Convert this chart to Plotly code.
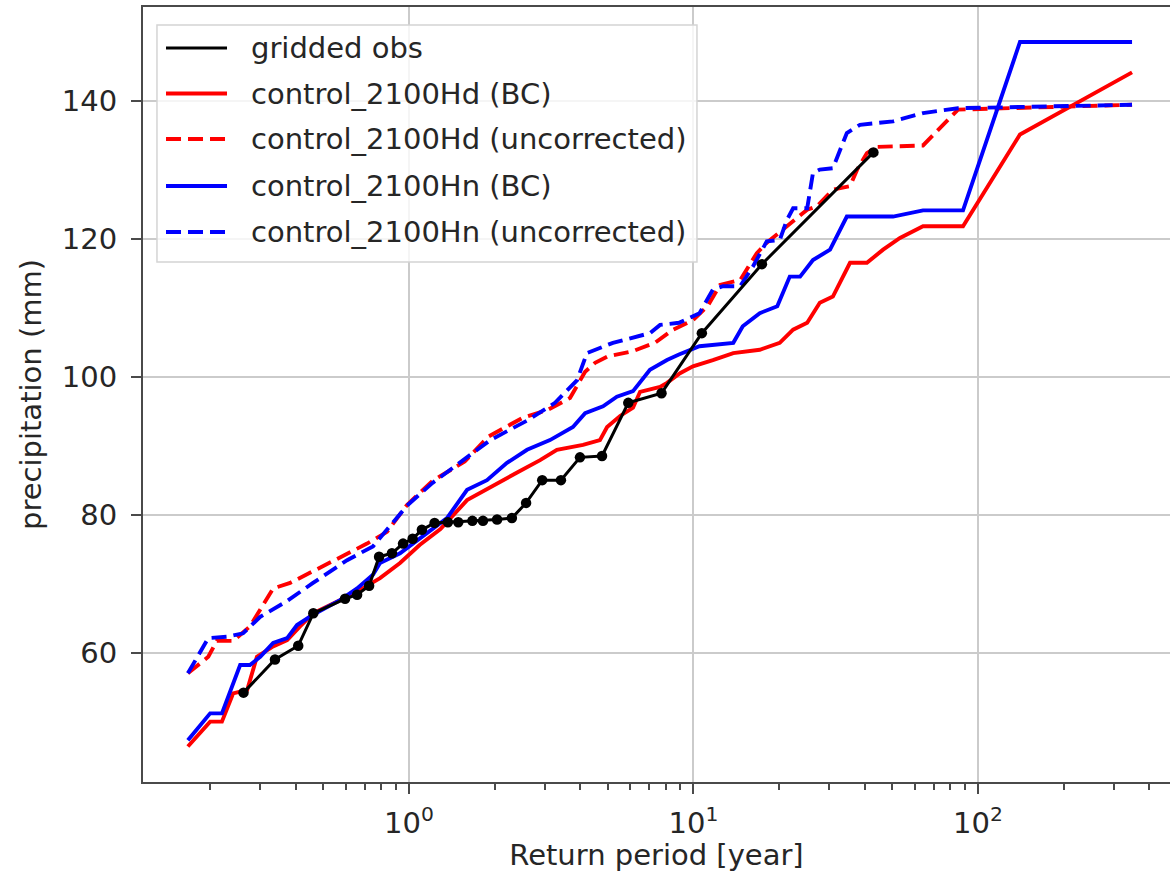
import plotly.graph_objects as go

# Empirical return levels: return period (years) vs precipitation (mm)
obs_T = [0.262, 0.338, 0.408, 0.461, 0.596, 0.657, 0.724, 0.785, 0.871, 0.953,
         1.03, 1.11, 1.23, 1.37, 1.49, 1.67, 1.82, 2.04, 2.30, 2.58,
         2.94, 3.42, 3.99, 4.77, 5.90, 7.72, 10.7, 17.4, 42.9]
obs_P = [54.3, 59.1, 61.1, 65.8, 67.9, 68.5, 69.8, 74.0, 74.5, 75.9,
         76.6, 77.9, 78.9, 79.0, 79.0, 79.2, 79.2, 79.4, 79.6, 81.8,
         85.1, 85.1, 88.4, 88.6, 96.3, 97.7, 106.4, 116.4, 132.6]

hd_bc_T = [0.167, 0.200, 0.220, 0.241, 0.270, 0.292, 0.333, 0.373, 0.414, 0.460,
           0.572, 0.673, 0.791, 0.930, 1.09, 1.29, 1.60, 1.97, 2.40, 2.89,
           3.31, 4.09, 4.69, 4.97, 5.52, 6.13, 6.49, 7.63, 8.07, 8.97,
           9.96, 11.7, 13.8, 17.1, 20.1, 22.4, 25.1, 27.8, 30.9, 35.5,
           40.7, 46.4, 53.2, 64.1, 88.6, 140.5, 348.0]
hd_bc_P = [46.5, 50.1, 50.1, 54.2, 54.7, 59.5, 61.0, 61.9, 63.9, 65.8,
           67.7, 69.2, 70.9, 73.1, 75.7, 78.0, 82.2, 84.3, 86.2, 88.0,
           89.5, 90.2, 90.9, 92.8, 94.4, 95.6, 97.9, 98.6, 99.2, 100.6,
           101.6, 102.5, 103.5, 104.0, 105.0, 106.9, 107.9, 110.8, 111.7, 116.6,
           116.6, 118.5, 120.2, 121.9, 121.9, 135.2, 144.2]

hd_raw_T = [0.167, 0.197, 0.211, 0.241, 0.276, 0.333, 0.382, 0.460, 0.572, 0.712,
            0.837, 0.984, 1.21, 1.57, 1.90, 2.50, 3.08, 3.68, 4.16, 4.51,
            4.97, 6.13, 7.32, 8.47, 9.96, 11.2, 12.4, 14.6, 16.7, 18.1,
            21.3, 25.1, 27.2, 30.9, 35.5, 37.6, 40.7, 44.2, 64.1, 85.1,
            348.0]
hd_raw_P = [57.1, 59.5, 61.8, 61.8, 63.9, 69.4, 70.2, 71.9, 74.0, 75.9,
            77.6, 81.5, 85.0, 87.8, 91.4, 94.1, 95.3, 97.0, 100.8, 102.1,
            103.0, 103.8, 105.0, 106.9, 108.3, 110.3, 113.4, 114.1, 118.0, 119.5,
            121.9, 124.3, 124.8, 127.2, 127.7, 130.1, 132.5, 133.4, 133.6, 138.8,
            139.5]

hn_bc_T = [0.167, 0.200, 0.220, 0.255, 0.276, 0.300, 0.333, 0.373, 0.404, 0.460,
           0.572, 0.657, 0.747, 0.791, 0.930, 1.07, 1.21, 1.36, 1.60, 1.88,
           2.21, 2.60, 3.13, 3.77, 4.16, 4.81, 5.38, 6.13, 7.03, 8.07,
           8.89, 10.5, 13.8, 14.9, 17.1, 19.7, 21.8, 23.7, 26.3, 30.2,
           34.6, 50.3, 64.1, 88.6, 140.5, 348.0]
hn_bc_P = [47.4, 51.3, 51.3, 58.3, 58.3, 59.5, 61.5, 62.2, 64.1, 65.6,
           67.7, 69.4, 71.4, 73.1, 74.5, 76.4, 77.9, 79.6, 83.7, 85.1,
           87.6, 89.5, 90.9, 92.8, 94.8, 95.8, 97.2, 98.0, 101.1, 102.5,
           103.3, 104.5, 105.0, 107.4, 109.3, 110.3, 114.6, 114.6, 117.0, 118.5,
           123.3, 123.3, 124.2, 124.2, 148.6, 148.6]

hn_raw_T = [0.167, 0.197, 0.229, 0.261, 0.300, 0.367, 0.460, 0.606, 0.747, 0.837,
            0.984, 1.21, 1.51, 1.93, 2.62, 3.26, 3.90, 4.22, 5.21, 6.13,
            7.03, 7.63, 8.89, 10.5, 11.7, 12.7, 14.6, 16.2, 18.1, 20.1,
            21.3, 22.4, 25.1, 26.3, 27.8, 30.9, 34.6, 38.5, 50.3, 64.1,
            85.1, 348.0]
hn_raw_P = [57.1, 62.2, 62.4, 62.9, 65.3, 67.4, 70.2, 73.5, 75.5, 77.9,
            81.4, 84.7, 87.7, 90.9, 93.8, 96.3, 99.6, 103.5, 105.0, 105.7,
            106.4, 107.6, 107.9, 109.3, 112.7, 113.2, 113.2, 116.1, 119.7, 119.9,
            122.8, 124.5, 124.5, 129.6, 130.1, 130.3, 135.4, 136.6, 137.1, 138.3,
            139.0, 139.5]

y_ticks = [60, 80, 100, 120, 140]
x_ticks = [1, 10, 100]
x_tick_text = ["10<sup>0</sup>", "10<sup>1</sup>", "10<sup>2</sup>"]

FONT = "DejaVu Sans"
TEXT = "#262626"
SPINE = "#4a4a4a"
GRID = "#cbcbcb"
DASH = "15px,7px"
FS = 29

series = [
    ("gridded obs", obs_T, obs_P, "black", "solid", 3.0, True),
    ("control_2100Hd (BC)", hd_bc_T, hd_bc_P, "red", "solid", 3.9, False),
    ("control_2100Hd (uncorrected)", hd_raw_T, hd_raw_P, "red", DASH, 3.9, False),
    ("control_2100Hn (BC)", hn_bc_T, hn_bc_P, "blue", "solid", 3.9, False),
    ("control_2100Hn (uncorrected)", hn_raw_T, hn_raw_P, "blue", DASH, 3.9, False),
]

fig = go.Figure()
# draw order: coloured curves first, observations on top
for name, xs, ys, color, dash, width, markers in series[1:] + series[:1]:
    fig.add_trace(go.Scatter(
        x=xs, y=ys, name=name,
        mode="lines+markers" if markers else "lines",
        line=dict(color=color, width=width, dash=dash),
        marker=dict(color=color, size=10.5) if markers else None,
        showlegend=False,
    ))

# legend box (top-left, semi-transparent)
shapes = [dict(type="rect", xref="paper", yref="paper",
               x0=0.0136, x1=0.5394, y0=0.671, y1=0.9768,
               fillcolor="rgba(255,255,255,0.8)",
               line=dict(color="#d4d4d4", width=1.5), layer="above")]
annotations = []
row_y = [0.9471, 0.8883, 0.8297, 0.7690, 0.7097]
for (name, xs, ys, color, dash, width, markers), yy in zip(series, row_y):
    shapes.append(dict(type="line", xref="paper", yref="paper",
                       x0=0.0224, x1=0.0818, y0=yy, y1=yy,
                       line=dict(color=color, width=width, dash=dash),
                       layer="above"))
    annotations.append(dict(xref="paper", yref="paper", x=0.1032, y=yy,
                            xanchor="left", yanchor="middle", showarrow=False,
                            text=name, font=dict(family=FONT, size=FS, color=TEXT)))

axis_common = dict(
    showline=True, linecolor=SPINE, linewidth=2.2,
    ticks="outside", ticklen=10, tickwidth=2.2, tickcolor=SPINE,
    showgrid=True, gridcolor=GRID, gridwidth=2,
    zeroline=False,
    tickfont=dict(family=FONT, size=FS, color=TEXT),
)

fig.update_layout(
    width=1170, height=872,
    margin=dict(l=143, r=0, t=7, b=90, autoexpand=False),
    plot_bgcolor="white", paper_bgcolor="white",
    font=dict(family=FONT, size=FS, color=TEXT),
    shapes=shapes, annotations=annotations,
    showlegend=False,
    xaxis=dict(
        type="log", range=[-0.935, 2.675], mirror=True,
        tickmode="array", tickvals=x_ticks, ticktext=x_tick_text,
        ticklabelstandoff=4,
        minor=dict(ticks="outside", ticklen=6, tickwidth=1.6, tickcolor=SPINE,
                   tickmode="array",
                   tickvals=[m * 10.0 ** e for e in range(-1, 3) for m in range(2, 10)],
                   showgrid=False),
        title=dict(text="Return period [year]", standoff=6,
                   font=dict(family=FONT, size=FS, color=TEXT)),
        **axis_common,
    ),
    yaxis=dict(
        range=[41.35, 153.67], mirror=False,
        tickmode="array", tickvals=y_ticks,
        ticklabelstandoff=8,
        title=dict(text="precipitation (mm)", standoff=12,
                   font=dict(family=FONT, size=FS, color=TEXT)),
        **axis_common,
    ),
)

fig.write_html("out.html")
